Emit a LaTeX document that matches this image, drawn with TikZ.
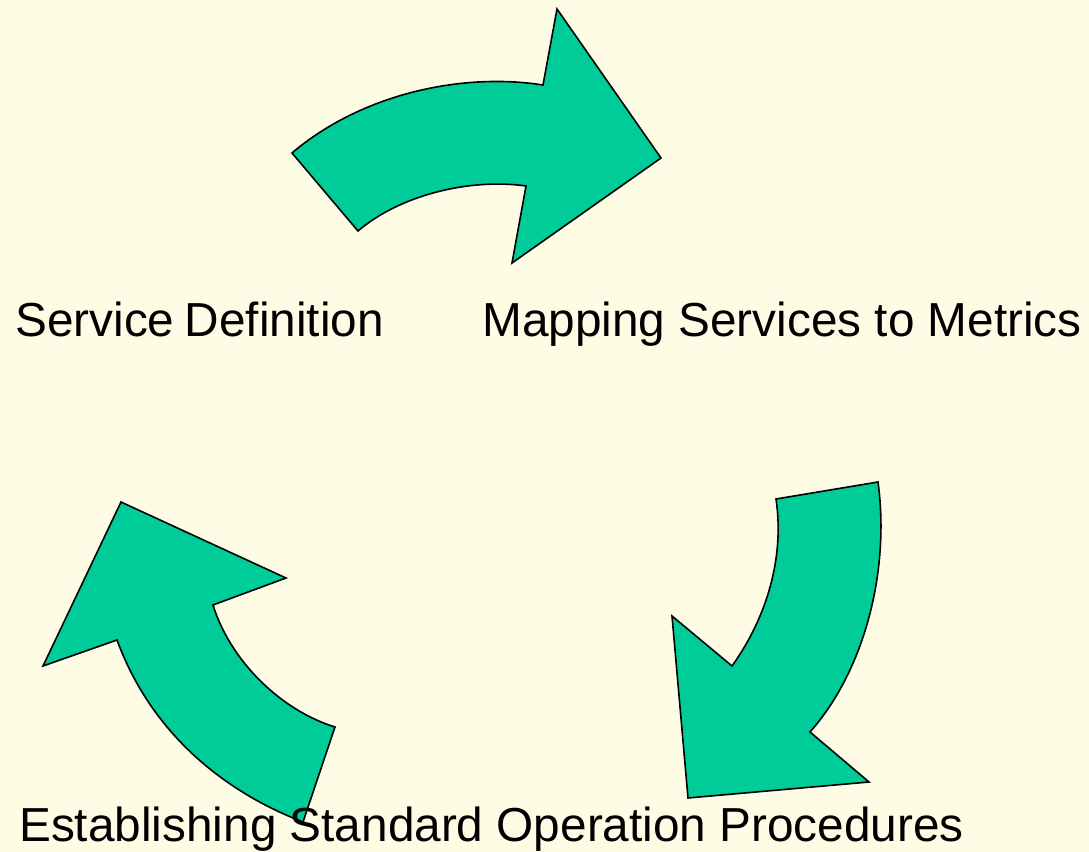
\documentclass[tikz,border=0pt]{standalone}
\usepackage{fontspec}
\setmainfont{Liberation Sans}
\usepackage{tikz}
\usetikzlibrary{positioning}

\definecolor{paper}{RGB}{255,252,230}
\definecolor{arrowgreen}{RGB}{0,204,153}
\tikzset{
  bentarrow/.style={fill=arrowgreen, draw=black, line width=1.2pt, line join=miter},
  steplabel/.style={anchor=base west, inner sep=0pt, font=\fontsize{35.8}{42}\selectfont}
}

\begin{document}
\begin{tikzpicture}[x=0.75pt, y=-0.75pt]
\useasboundingbox (0,0) rectangle (1089,852);
\fill[paper] (0,0) rectangle (1089,852);
% top arrow
\draw[bentarrow] (292,153) .. controls (360,95) and (460,72) .. (543,85)
  -- (557,9) -- (661,158) -- (512,263) -- (526,186)
  .. controls (470,178) and (400,195) .. (358,231) -- cycle;
% right arrow
\draw[bentarrow] (776,499) -- (878,482)
  .. controls (890,570) and (865,670) .. (810,732)
  -- (869,782) -- (688,798) -- (672,616) -- (732,666)
  .. controls (765,620) and (785,560) .. (776,499) -- cycle;
% left arrow
\draw[bentarrow] (121,502) -- (286,578) -- (213,605)
  .. controls (230,660) and (280,710) .. (335,727)
  -- (303,822)
  .. controls (220,790) and (150,730) .. (117,640)
  -- (43,666) -- cycle;
% labels
\node[steplabel] (service) at (15,336) {Service\hspace{-2pt} Definition};
\node[steplabel] (mapping) at (482,336) {Mapping Services to Metrics};
\node[steplabel] (sop) at (19,841) {Establishing Standard Operation Procedures};
\end{tikzpicture}
\end{document}
